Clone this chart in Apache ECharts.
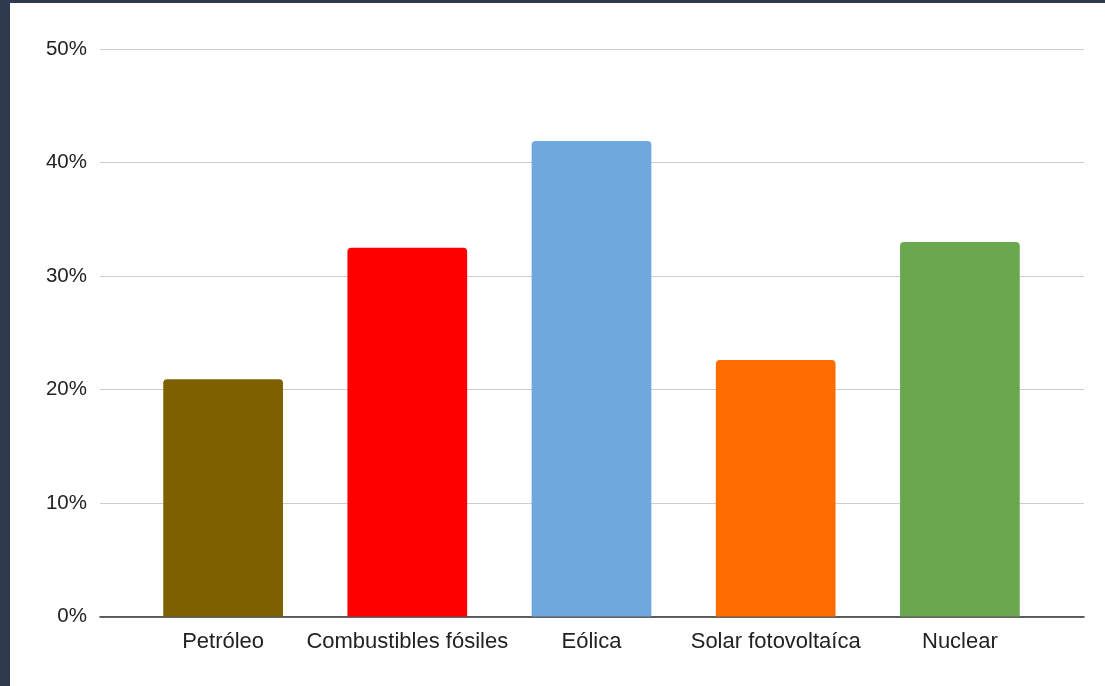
<!DOCTYPE html>
<html>
<head>
<meta charset="utf-8">
<script src="https://cdn.jsdelivr.net/npm/echarts@6/dist/echarts.min.js"></script>
<style>
  html, body { margin: 0; padding: 0; width: 1105px; height: 686px; background: #2f3a4f; overflow: hidden; }
  #chart { position: absolute; left: 10px; top: 3px; width: 1095px; height: 683px; background: #ffffff; }
</style>
</head>
<body>
<div id="chart"></div>
<script>
const categories = ['Petróleo', 'Combustibles fósiles', 'Eólica', 'Solar fotovoltaíca', 'Nuclear'];
const values = [20.9, 32.5, 41.9, 22.6, 33.0];
const barColors = ['#7f6000', '#ff0000', '#6fa8dc', '#ff6d01', '#6aa84f'];
const yTicks = [0, 10, 20, 30, 40, 50];

const chart = echarts.init(document.getElementById('chart'));
const font = 'Liberation Sans, Arial, sans-serif';
chart.setOption({
  animation: false,
  backgroundColor: '#ffffff',
  grid: [
    { left: 90, right: 21, top: 46, bottom: 69.5 },
    { left: 121, right: 53, top: 46, bottom: 69.5 }
  ],
  xAxis: [
    { gridIndex: 0, type: 'value', min: 0, max: 1, show: true,
      axisLine: { show: true, lineStyle: { color: '#333333', width: 1.5 } },
      axisTick: { show: false }, axisLabel: { show: false }, splitLine: { show: false } },
    { gridIndex: 1, type: 'category', data: categories,
      axisLine: { show: false }, axisTick: { show: false },
      axisLabel: { color: '#222222', fontSize: 22, fontFamily: font, margin: 14, interval: 0 } }
  ],
  yAxis: [
    { gridIndex: 0, type: 'value', min: yTicks[0], max: yTicks[yTicks.length - 1], interval: 10,
      axisLine: { show: false }, axisTick: { show: false },
      axisLabel: { color: '#222222', fontSize: 20.5, fontFamily: font, margin: 13, formatter: v => v + '%' },
      splitLine: { show: true, lineStyle: { color: '#cccccc', width: 1.2 } } },
    { gridIndex: 1, type: 'value', min: yTicks[0], max: yTicks[yTicks.length - 1], interval: 10,
      show: false, splitLine: { show: false } }
  ],
  series: [{
    type: 'bar',
    xAxisIndex: 1, yAxisIndex: 1,
    barWidth: '65%',
    data: values.map((v, i) => ({ value: v, itemStyle: { color: barColors[i], borderRadius: [4, 4, 0, 0] } }))
  }]
});
</script>
</body>
</html>
